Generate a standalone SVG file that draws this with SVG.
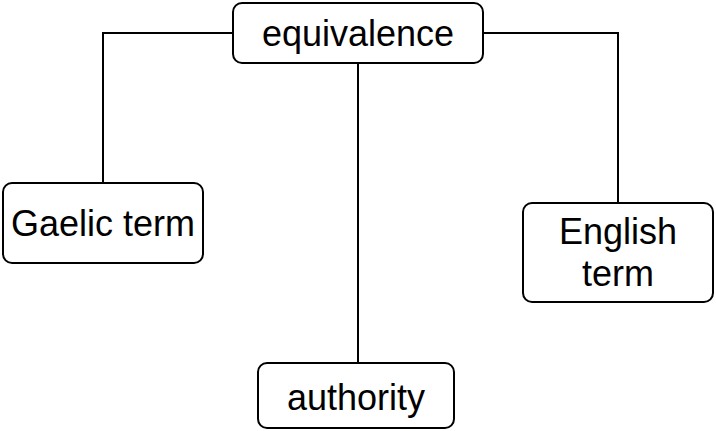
<svg xmlns="http://www.w3.org/2000/svg" width="716" height="431" viewBox="0 0 716 431">
<style>
.box{fill:#fff;stroke:#000;stroke-width:2}
.lbl{font-family:"Liberation Sans",Arial,sans-serif;font-size:36px;fill:#000;text-anchor:middle}
.con{fill:none;stroke:#000;stroke-width:2}
</style>
<rect width="716" height="431" fill="#fff"/>
<g id="connectors">
<path class="con" d="M233 33 H103 V183"/>
<path class="con" d="M483 33 H618 V203"/>
<path class="con" d="M358 63 V363"/>
</g>
<g id="equivalence">
<rect class="box" x="233" y="3" width="250" height="60" rx="9"/>
<text class="lbl" x="358" y="46">equivalence</text>
</g>
<g id="gaelic">
<rect class="box" x="3" y="183" width="200" height="80" rx="9"/>
<text class="lbl" x="103" y="236">Gaelic term</text>
</g>
<g id="english">
<rect class="box" x="523" y="203" width="190" height="99" rx="9"/>
<text class="lbl" x="618" y="244">English</text>
<text class="lbl" x="618" y="286">term</text>
</g>
<g id="authority">
<rect class="box" x="258" y="363" width="196" height="65" rx="9"/>
<text class="lbl" x="356" y="410">authority</text>
</g>
</svg>
